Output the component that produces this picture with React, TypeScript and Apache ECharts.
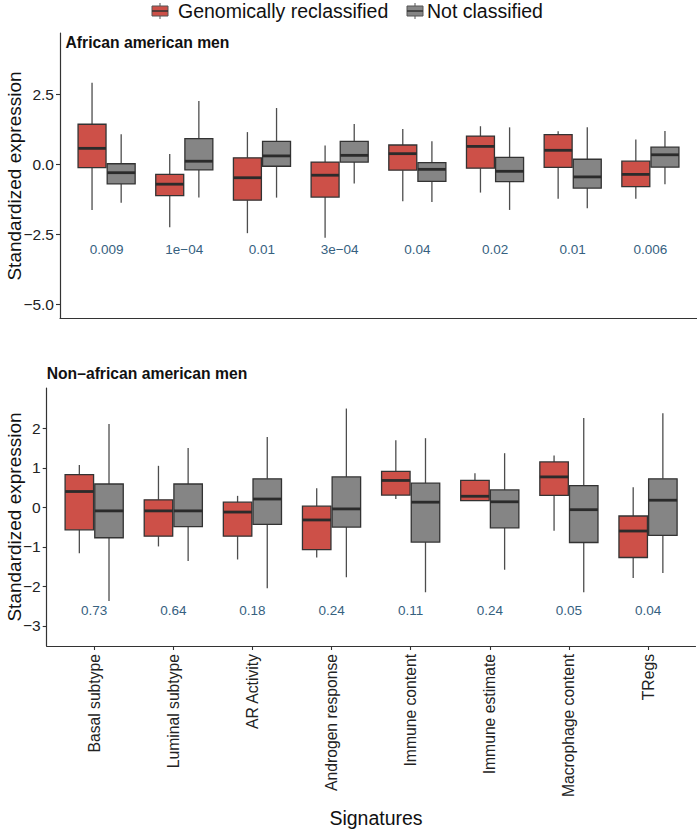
import React, { useEffect, useRef } from "react";
import * as echarts from "echarts";

const categories = [
  "Basal subtype",
  "Luminal subtype",
  "AR Activity",
  "Androgen response",
  "Immune content",
  "Immune estimate",
  "Macrophage content",
  "TRegs",
];

// each entry: [lower whisker, Q1, median, Q3, upper whisker]
const aaReclassified = [
  [-1.63, -0.12, 0.57, 1.43, 2.91],
  [-2.25, -1.12, -0.71, -0.36, 0.37],
  [-2.46, -1.28, -0.48, 0.23, 1.15],
  [-2.62, -1.17, -0.39, 0.08, 0.67],
  [-1.32, -0.21, 0.38, 0.69, 1.26],
  [-1.01, -0.14, 0.64, 1.01, 1.36],
  [-1.23, -0.11, 0.5, 1.06, 1.18],
  [-1.23, -0.8, -0.36, 0.11, 0.89],
];
const aaNotClassified = [
  [-1.37, -0.7, -0.3, 0.02, 1.07],
  [-1.19, -0.2, 0.11, 0.92, 2.26],
  [-1.19, -0.07, 0.3, 0.82, 2.01],
  [-0.69, 0.08, 0.32, 0.82, 1.44],
  [-1.35, -0.61, -0.18, 0.06, 0.82],
  [-1.63, -0.62, -0.25, 0.25, 1.32],
  [-1.57, -0.85, -0.45, 0.18, 1.32],
  [-0.71, -0.1, 0.34, 0.61, 1.19],
];
const nonReclassified = [
  [-1.16, -0.57, 0.4, 0.83, 1.07],
  [-0.99, -0.73, -0.09, 0.19, 1.05],
  [-1.32, -0.73, -0.12, 0.13, 0.29],
  [-1.27, -1.07, -0.32, 0.03, 0.48],
  [0.21, 0.31, 0.68, 0.91, 1.7],
  [0.17, 0.17, 0.28, 0.68, 0.86],
  [-0.59, 0.3, 0.77, 1.15, 1.31],
  [-1.79, -1.27, -0.6, -0.22, 0.51],
];
const nonNotClassified = [
  [-2.37, -0.77, -0.09, 0.59, 2.11],
  [-1.36, -0.49, -0.09, 0.59, 1.5],
  [-2.05, -0.43, 0.21, 0.72, 1.78],
  [-1.77, -0.5, -0.04, 0.77, 2.5],
  [-2.15, -0.88, 0.13, 0.61, 1.75],
  [-1.58, -0.52, 0.14, 0.44, 1.37],
  [-2.15, -0.89, -0.06, 0.55, 2.26],
  [-1.66, -0.71, 0.18, 0.72, 2.38],
];

const pTop = ["0.009", "1e\u221204", "0.01", "3e\u221204", "0.04", "0.02", "0.01", "0.006"];
const pBottom = ["0.73", "0.64", "0.18", "0.24", "0.11", "0.24", "0.05", "0.04"];

const topTicks = [-5, -2.5, 0, 2.5];
const bottomTicks = [-3, -2, -1, 0, 1, 2];
const legendNames = ["Genomically reclassified", "Not classified"];

const RED = "#CD5048";
const GREY = "#858585";
const FONT = "'Liberation Sans', Arial, Helvetica, sans-serif";

function minus(s: string) {
  return s.replace("-", "\u2212");
}

function boxSeries(name: string, vals: number[][], idx: number, color: string, offset: number) {
  return {
    type: "custom",
    name,
    xAxisIndex: idx,
    yAxisIndex: idx,
    encode: { x: 0, y: [1, 2, 3, 4, 5] },
    data: vals.map((v, i) => [i + 1, ...v]),
    renderItem: (params: any, api: any) => {
      const ci = api.value(0);
      const unit = api.size([1, 0])[0];
      const cx = api.coord([ci, 0])[0] + offset * unit;
      const w = 0.36 * unit;
      const yLow = api.coord([ci, api.value(1)])[1];
      const yQ1 = api.coord([ci, api.value(2)])[1];
      const yMed = api.coord([ci, api.value(3)])[1];
      const yQ3 = api.coord([ci, api.value(4)])[1];
      const yHigh = api.coord([ci, api.value(5)])[1];
      return {
        type: "group",
        children: [
          {
            type: "line",
            shape: { x1: cx, y1: yHigh, x2: cx, y2: yQ3 },
            style: { stroke: "#4d4d4d", lineWidth: 1.3 },
          },
          {
            type: "line",
            shape: { x1: cx, y1: yQ1, x2: cx, y2: yLow },
            style: { stroke: "#4d4d4d", lineWidth: 1.3 },
          },
          {
            type: "rect",
            shape: { x: cx - w / 2, y: yQ3, width: w, height: Math.max(yQ1 - yQ3, 0.5) },
            style: { fill: color, stroke: "#333333", lineWidth: 1.3 },
          },
          {
            type: "line",
            shape: { x1: cx - w / 2, y1: yMed, x2: cx + w / 2, y2: yMed },
            style: { stroke: "#2b2b2b", lineWidth: 2.8 },
          },
        ],
      };
    },
  };
}

function pSeries(texts: string[], idx: number, yPos: number) {
  return {
    type: "custom",
    xAxisIndex: idx,
    yAxisIndex: idx,
    data: texts.map((_, i) => [i + 1, yPos]),
    encode: { x: 0, y: 1 },
    renderItem: (params: any, api: any) => {
      const p = api.coord([api.value(0), api.value(1)]);
      return {
        type: "text",
        x: p[0],
        y: p[1],
        style: {
          text: texts[params.dataIndex],
          fill: "#36617f",
          fontSize: 13.5,
          fontFamily: FONT,
          align: "center",
          verticalAlign: "middle",
        },
      };
    },
  };
}

function legendIcon(x: number, y: number, color: string) {
  return [
    { type: "line", shape: { x1: x + 8, y1: y - 8, x2: x + 8, y2: y - 5 }, style: { stroke: "#555", lineWidth: 1 } },
    { type: "line", shape: { x1: x + 8, y1: y + 5, x2: x + 8, y2: y + 8 }, style: { stroke: "#555", lineWidth: 1 } },
    { type: "rect", shape: { x, y: y - 5, width: 16, height: 10 }, style: { fill: color, stroke: "#555", lineWidth: 1 } },
    { type: "line", shape: { x1: x, y1: y, x2: x + 16, y2: y }, style: { stroke: "#333", lineWidth: 1.5 } },
  ];
}

export default function App() {
  const ref = useRef<HTMLDivElement>(null);
  useEffect(() => {
    document.body.style.margin = "0";
    if (!ref.current) return;
    const chart = echarts.init(ref.current, null, { renderer: "svg" });
    const axisLine = { show: true, onZero: false, lineStyle: { color: "#333333", width: 1.2 } };
    const axisTick = { show: true, length: 4, lineStyle: { color: "#333333", width: 1.1 } };
    const xBase = {
      type: "value",
      min: 0.4,
      max: 8.6,
      splitLine: { show: false },
      axisLine,
    };
    const option: any = {
      animation: false,
      backgroundColor: "#ffffff",
      textStyle: { fontFamily: FONT },
      grid: [
        { left: 60, top: 33, width: 637, height: 285 },
        { left: 46.7, top: 388, width: 648.8, height: 258 },
      ],
      xAxis: [
        {
          ...xBase,
          gridIndex: 0,
          axisTick: { show: false },
          axisLabel: { show: false },
        },
        {
          ...xBase,
          gridIndex: 1,
          axisTick: { ...axisTick, customValues: [1, 2, 3, 4, 5, 6, 7, 8] },
          axisLabel: {
            customValues: [1, 2, 3, 4, 5, 6, 7, 8],
            formatter: (v: number) => categories[Math.round(v) - 1] ?? "",
            rotate: 90,
            margin: 8,
            fontSize: 15.7,
            color: "#222222",
            fontFamily: FONT,
          },
        },
      ],
      yAxis: [
        {
          type: "value",
          gridIndex: 0,
          min: -5.49,
          max: 4.69,
          splitLine: { show: false },
          axisLine,
          axisTick: { ...axisTick, customValues: topTicks },
          axisLabel: {
            customValues: topTicks,
            formatter: (v: number) => minus(v.toFixed(1)),
            fontSize: 15.5,
            color: "#222222",
            margin: 6,
            fontFamily: FONT,
          },
        },
        {
          type: "value",
          gridIndex: 1,
          min: -3.51,
          max: 3.02,
          splitLine: { show: false },
          axisLine,
          axisTick: { ...axisTick, customValues: bottomTicks },
          axisLabel: {
            customValues: bottomTicks,
            formatter: (v: number) => minus(String(v)),
            fontSize: 15.5,
            color: "#222222",
            margin: 6,
            fontFamily: FONT,
          },
        },
      ],
      series: [
        boxSeries(legendNames[0], aaReclassified, 0, RED, -0.1875),
        boxSeries(legendNames[1], aaNotClassified, 0, GREY, 0.1875),
        boxSeries(legendNames[0], nonReclassified, 1, RED, -0.1875),
        boxSeries(legendNames[1], nonNotClassified, 1, GREY, 0.1875),
        pSeries(pTop, 0, -3.03),
        pSeries(pBottom, 1, -2.62),
      ],
      graphic: [
        ...legendIcon(152, 11, RED),
        {
          type: "text",
          x: 178,
          y: 11,
          style: { text: legendNames[0], fontSize: 19.5, fontFamily: FONT, fill: "#111", verticalAlign: "middle" },
        },
        ...legendIcon(407, 11, GREY),
        {
          type: "text",
          x: 427,
          y: 11,
          style: { text: legendNames[1], fontSize: 19.5, fontFamily: FONT, fill: "#111", verticalAlign: "middle" },
        },
        {
          type: "text",
          x: 65.5,
          y: 42,
          style: { text: "African american men", fontSize: 15.7, fontWeight: "bold", fontFamily: FONT, fill: "#111", verticalAlign: "middle" },
        },
        {
          type: "text",
          x: 46.7,
          y: 373.5,
          style: { text: "Non\u2013african american men", fontSize: 15.7, fontWeight: "bold", fontFamily: FONT, fill: "#111", verticalAlign: "middle" },
        },
        {
          type: "text",
          x: 14,
          y: 176,
          rotation: Math.PI / 2,
          style: { text: "Standardized expression", fontSize: 19, fontFamily: FONT, fill: "#111", align: "center", verticalAlign: "middle" },
        },
        {
          type: "text",
          x: 14,
          y: 517,
          rotation: Math.PI / 2,
          style: { text: "Standardized expression", fontSize: 19, fontFamily: FONT, fill: "#111", align: "center", verticalAlign: "middle" },
        },
        {
          type: "text",
          x: 376,
          y: 818,
          style: { text: "Signatures", fontSize: 19.5, fontFamily: FONT, fill: "#111", align: "center", verticalAlign: "middle" },
        },
      ],
    };
    chart.setOption(option);
    return () => chart.dispose();
  }, []);
  return <div ref={ref} style={{ width: 697, height: 829 }} />;
}
